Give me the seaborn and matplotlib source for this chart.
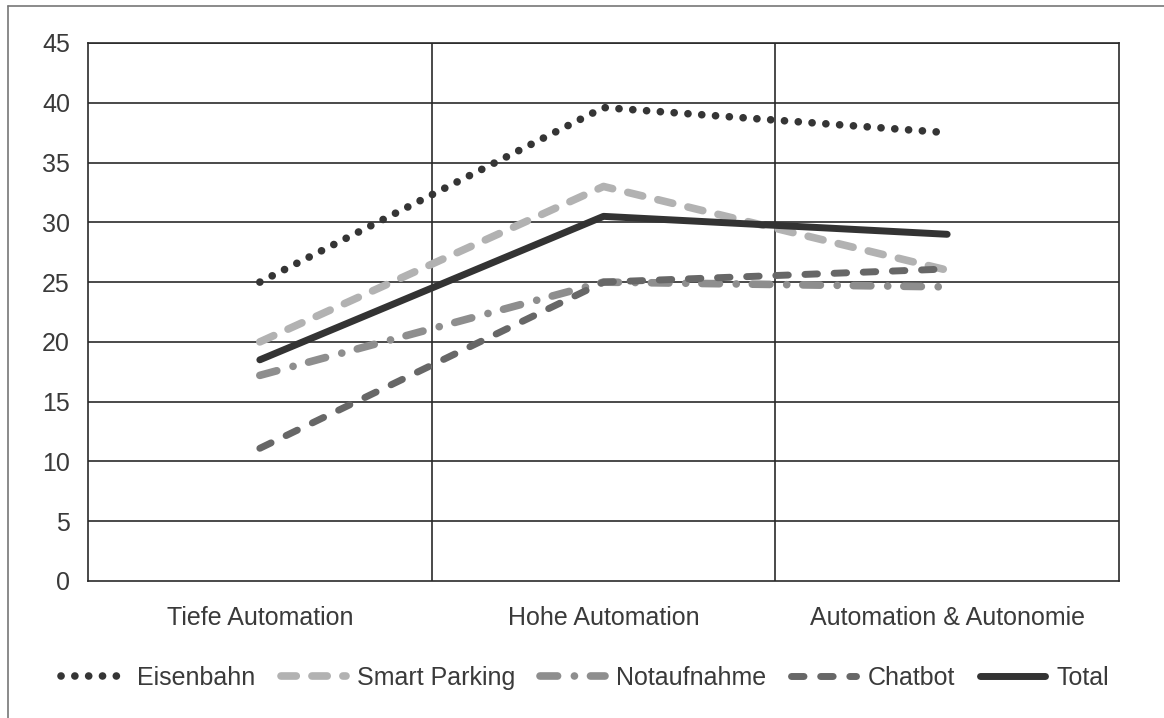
import numpy as np
import pandas as pd
import seaborn as sns
import matplotlib.pyplot as plt
from matplotlib.lines import Line2D

# Werte
categories = ['Tiefe Automation', 'Hohe Automation', 'Automation & Autonomie']
eisenbahn = [25.0, 39.6, 37.5]
smart_parking = [20.0, 33.0, 26.0]
notaufnahme = [17.2, 25.0, 24.6]
chatbot = [11.1, 25.0, 26.1]
total = [18.5, 30.5, 29.0]
y_ticks = [0, 5, 10, 15, 20, 25, 30, 35, 40, 45]

series = [
    ('Eisenbahn', eisenbahn, '#353535', 5.5, (0, (0.01, 1.8))),
    ('Smart Parking', smart_parking, '#b2b2b2', 5.5, (0, (2.0, 2.05))),
    ('Notaufnahme', notaufnahme, '#8e8e8e', 5.5, (0, (2.3, 2.2, 0.01, 2.1))),
    ('Chatbot', chatbot, '#676767', 5.0, (0, (1.8, 2.4))),
    ('Total', total, '#333333', 5.0, '-'),
]

sns.set_style("white")
plt.rcParams['font.family'] = ['Liberation Sans', 'DejaVu Sans']
text_col = '#3a3a3a'
fs = 18

fig = plt.figure(figsize=(11.64, 7.18), dpi=100)
ax = fig.add_axes([88 / 1164, 1 - 581 / 718, 1031 / 1164, 538 / 718])

x_pos = np.arange(len(categories))
for name, vals, col, lw, ls in series:
    df = pd.DataFrame({'x': x_pos, 'y': vals})
    sns.lineplot(data=df, x='x', y='y', ax=ax, color=col, linewidth=lw,
                 linestyle=ls, solid_capstyle='round', dash_capstyle='round',
                 label=name)

ax.set_xlim(-0.5, 2.5)
ax.set_ylim(0, 45)
ax.set_yticks(y_ticks)
ax.set_xticks(x_pos)
ax.set_xticklabels(categories)
ax.set_xlabel('')
ax.set_ylabel('')
ax.tick_params(axis='both', length=0, labelsize=fs, colors=text_col)
ax.tick_params(axis='y', pad=13)
ax.tick_params(axis='x', pad=18)

# Raster: horizontale Linien bei jedem Tick, vertikale zwischen den Kategorien
for yv in y_ticks[1:]:
    ax.axhline(yv, color='#2a2a2a', lw=1.2, zorder=0)
for xv in [0.5, 1.5]:
    ax.axvline(xv, color='#2a2a2a', lw=1.2, zorder=0)
for sp in ax.spines.values():
    sp.set_visible(True)
    sp.set_color('#2a2a2a')
    sp.set_linewidth(1.2)

ax.legend(loc='center', bbox_to_anchor=(0.482, -0.18), ncol=5,
          frameon=False, fontsize=fs, handlelength=2.6, handletextpad=0.45,
          columnspacing=1.0, labelcolor=text_col)

# Rahmen aussen (links und oben)
fig.add_artist(Line2D([8 / 1164, 8 / 1164], [0, 1 - 6 / 718], color='#777777', lw=1.2))
fig.add_artist(Line2D([8 / 1164, 1], [1 - 6 / 718, 1 - 6 / 718], color='#777777', lw=1.2))

fig.savefig('out.png', dpi=100)
